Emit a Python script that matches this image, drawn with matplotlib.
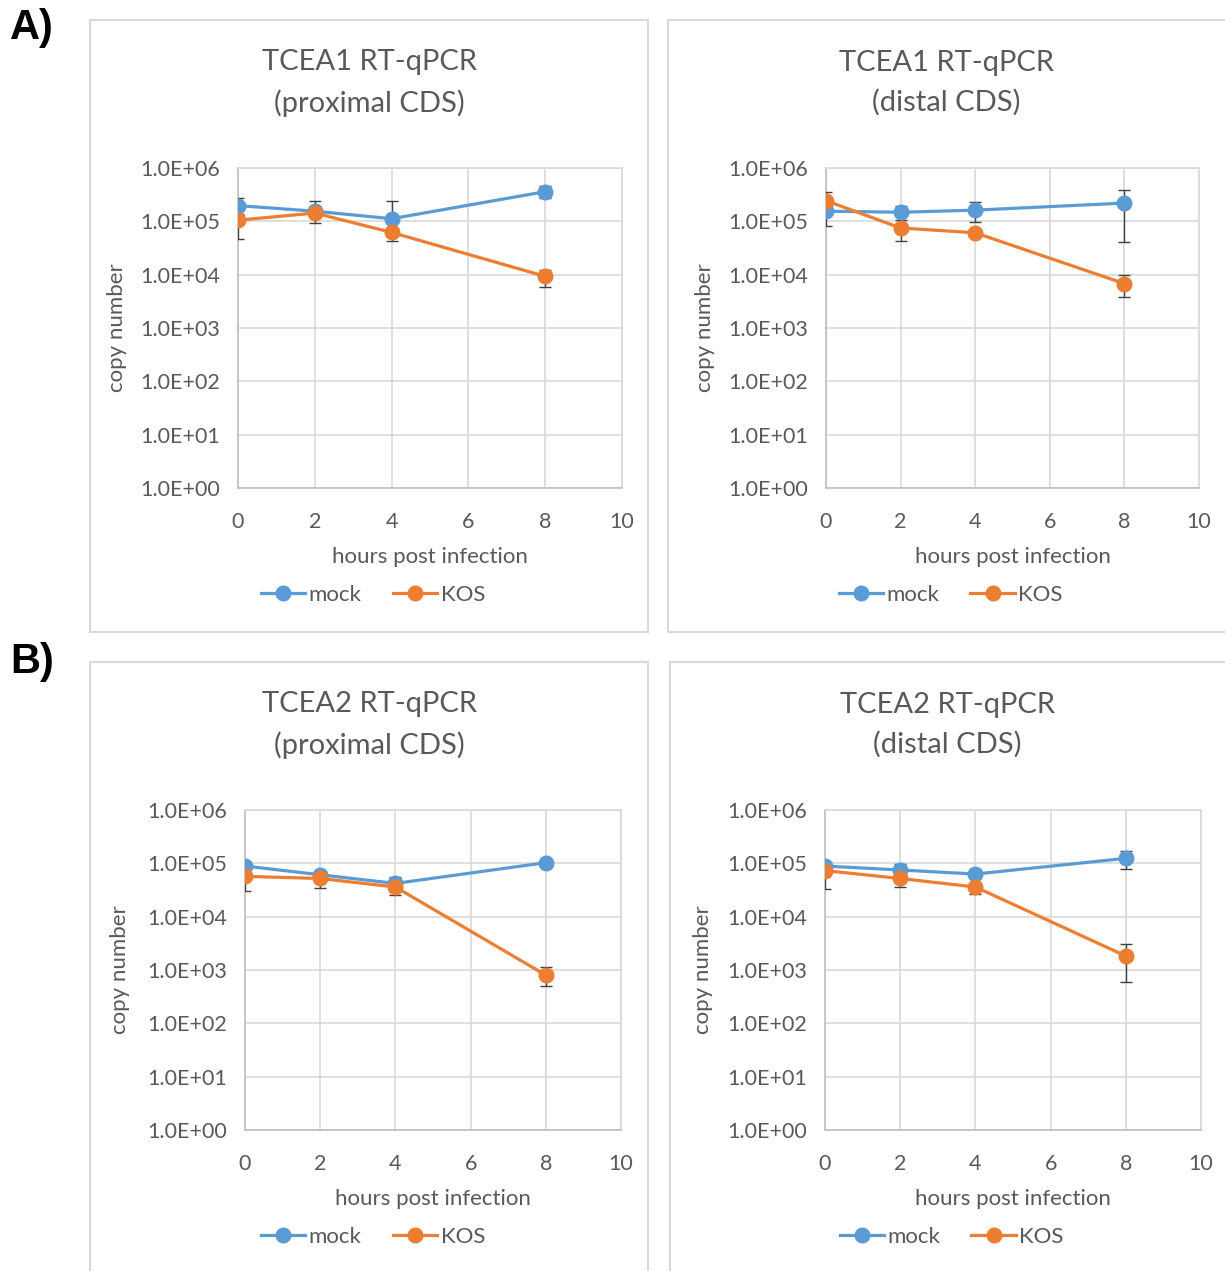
import matplotlib
matplotlib.use("Agg")
import matplotlib.pyplot as plt
from matplotlib.patches import Rectangle
from matplotlib.lines import Line2D
import numpy as np

plt.rcParams['font.family'] = ['Lato', 'DejaVu Sans']

hours = [0, 2, 4, 8]
series_names = ["mock", "KOS"]
titles = ["TCEA1 RT-qPCR\n(proximal CDS)", "TCEA1 RT-qPCR\n(distal CDS)",
          "TCEA2 RT-qPCR\n(proximal CDS)", "TCEA2 RT-qPCR\n(distal CDS)"]
ytick_vals = [1e0, 1e1, 1e2, 1e3, 1e4, 1e5, 1e6]
ytick_labels = ["1.0E+00", "1.0E+01", "1.0E+02", "1.0E+03", "1.0E+04", "1.0E+05", "1.0E+06"]
xtick_vals = [0, 2, 4, 6, 8, 10]

# TCEA1 proximal
a1_mock = [1.97e5, 1.55e5, 1.12e5, 3.6e5]
a1_mock_hi = [2.75e5, 2.37e5, 2.37e5, 4.5e5]
a1_mock_lo = [1.4e5, 1.2e5, 9.5e4, 2.75e5]
a1_kos = [1.05e5, 1.43e5, 6.2e4, 9.3e3]
a1_kos_hi = [1.3e5, 1.7e5, 7.5e4, 1.24e4]
a1_kos_lo = [4.6e4, 9.3e4, 4.3e4, 5.8e3]

# TCEA1 distal
a2_mock = [1.55e5, 1.48e5, 1.62e5, 2.2e5]
a2_mock_hi = [1.9e5, 1.9e5, 2.27e5, 3.9e5]
a2_mock_lo = [8.3e4, 1.07e5, 9.6e4, 4.1e4]
a2_kos = [2.44e5, 7.5e4, 6.1e4, 6.8e3]
a2_kos_hi = [3.5e5, 9.0e4, 7.0e4, 1.0e4]
a2_kos_lo = [2.0e5, 4.3e4, 5.2e4, 3.8e3]

# TCEA2 proximal
b1_mock = [8.9e4, 6.1e4, 4.2e4, 1.03e5]
b1_mock_hi = [1.0e5, 6.8e4, 5.5e4, 1.1e5]
b1_mock_lo = [7.5e4, 5.0e4, 3.6e4, 9.5e4]
b1_kos = [5.7e4, 5.2e4, 3.6e4, 8.0e2]
b1_kos_hi = [6.5e4, 6.0e4, 4.2e4, 1.15e3]
b1_kos_lo = [2.97e4, 3.5e4, 2.57e4, 5.1e2]

# TCEA2 distal
b2_mock = [8.9e4, 7.5e4, 6.3e4, 1.24e5]
b2_mock_hi = [9.8e4, 9.6e4, 7.7e4, 1.73e5]
b2_mock_lo = [8.0e4, 6.0e4, 5.5e4, 7.7e4]
b2_kos = [7.3e4, 5.2e4, 3.6e4, 1.83e3]
b2_kos_hi = [8.0e4, 6.0e4, 4.3e4, 3.1e3]
b2_kos_lo = [3.3e4, 3.6e4, 2.66e4, 5.9e2]

panels = [
    (a1_mock, a1_mock_lo, a1_mock_hi, a1_kos, a1_kos_lo, a1_kos_hi),
    (a2_mock, a2_mock_lo, a2_mock_hi, a2_kos, a2_kos_lo, a2_kos_hi),
    (b1_mock, b1_mock_lo, b1_mock_hi, b1_kos, b1_kos_lo, b1_kos_hi),
    (b2_mock, b2_mock_lo, b2_mock_hi, b2_kos, b2_kos_lo, b2_kos_hi),
]

W, H = 1225, 1271
fig = plt.figure(figsize=(W / 100, H / 100), dpi=100)
fig.patch.set_facecolor("white")

def fx(x):
    return x / W

def fy(y):
    return 1 - y / H

axes_px = [(238, 622, 168, 488), (826, 1199, 168, 488),
           (245, 621, 810, 1130), (825, 1201, 810, 1130)]
frame_px = [(90, 648, 20, 632), (668, 1230, 20, 632),
            (90, 648, 662, 1280), (670, 1230, 662, 1280)]
ylabel_x = [127, 715, 130, 713]

c_mock = "#5B9BD5"
c_kos = "#ED7D31"
txt = "#595959"
grid_c = "#D9D9D9"

for i in range(4):
    l, r, t, b = frame_px[i]
    fig.add_artist(Rectangle((fx(l), fy(b)), fx(r - l), (b - t) / H,
                             transform=fig.transFigure, fill=False,
                             edgecolor="#D9D9D9", linewidth=1.5, zorder=0))
    al, ar, at, ab = axes_px[i]
    ax = fig.add_axes([fx(al), fy(ab), fx(ar - al), (ab - at) / H])
    mock, mlo, mhi, kos, klo, khi = panels[i]
    mock = np.array(mock); kos = np.array(kos)
    merr = [mock - np.array(mlo), np.array(mhi) - mock]
    kerr = [kos - np.array(klo), np.array(khi) - kos]
    ax.set_yscale("log")
    ax.errorbar(hours, mock, yerr=merr, color=c_mock, lw=2.3, marker="o", ms=10.5,
                ecolor="#404040", elinewidth=1.0, capsize=4, capthick=1.0,
                label=series_names[0], zorder=3)
    ax.errorbar(hours, kos, yerr=kerr, color=c_kos, lw=2.3, marker="o", ms=10.5,
                ecolor="#404040", elinewidth=1.0, capsize=4, capthick=1.0,
                label=series_names[1], zorder=4)
    ax.set_xlim(0, 10)
    ax.set_ylim(1, 1e6)
    ax.set_xticks(xtick_vals)
    ax.set_xticklabels([str(v) for v in xtick_vals])
    ax.set_yticks(ytick_vals)
    ax.set_yticklabels(ytick_labels)
    ax.minorticks_off()
    ax.tick_params(axis="both", length=0, labelsize=15.5, colors=txt)
    ax.tick_params(axis="x", pad=17)
    ax.tick_params(axis="y", pad=13)
    ax.grid(True, color=grid_c, lw=1.2)
    ax.set_axisbelow(True)
    for s in ["top", "right"]:
        ax.spines[s].set_color(grid_c)
        ax.spines[s].set_linewidth(1.2)
    for s in ["left", "bottom"]:
        ax.spines[s].set_color("#BFBFBF")
        ax.spines[s].set_linewidth(1.2)
    ax.set_xlabel("hours post infection", fontsize=16, color=txt)
    ax.xaxis.set_label_coords(0.5, -69 / (ab - at))
    ax.xaxis.label.set_va("center")
    ax.set_ylabel("copy number", fontsize=16, color=txt)
    ax.yaxis.set_label_coords((ylabel_x[i] - al) / (ar - al), 0.5)
    cx = (l + r) / 2 if i % 2 == 0 else (l + 1225) / 2
    fig.text(fx(cx), fy(t + 63), titles[i], ha="center", va="center",
             fontsize=21, color=txt, linespacing=1.62)
    hl = [Line2D([0], [0], color=c_mock, lw=2.3, marker="o", ms=10.5),
          Line2D([0], [0], color=c_kos, lw=2.3, marker="o", ms=10.5)]
    fig.legend(hl, series_names, loc="center", bbox_to_anchor=(fx(cx + 4), fy(t + 575)),
               ncol=2, frameon=False, fontsize=16, labelcolor=txt,
               handlelength=2.0, handletextpad=0.15, columnspacing=1.4)

fig.text(fx(10), fy(28), "A)", ha="left", va="center", fontsize=30,
         fontweight="bold", family="Liberation Sans", color="black")
fig.text(fx(10), fy(662), "B)", ha="left", va="center", fontsize=30,
         fontweight="bold", family="Liberation Sans", color="black")

fig.savefig("out.png", dpi=100, facecolor="white")
